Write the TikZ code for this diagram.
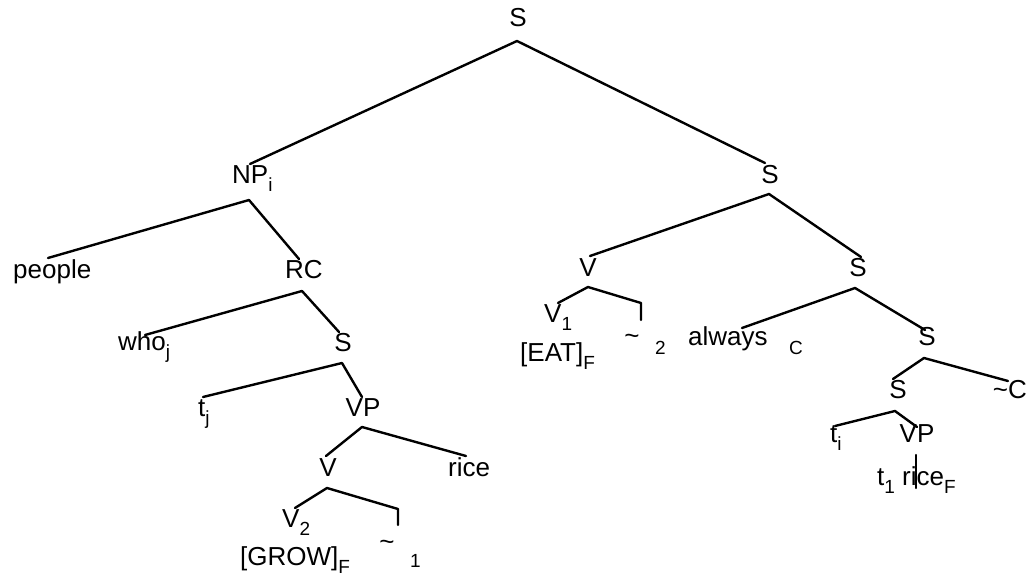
\documentclass[tikz,border=0pt]{standalone}
\usepackage{fontspec}
\setmainfont{Liberation Sans}
\newcommand\sbx[1]{\raisebox{-8pt}{\fontsize{19}{19}\selectfont #1}}
\newcommand\smx[1]{{\fontsize{19}{19}\selectfont #1}}
\begin{document}
\begin{tikzpicture}[x=1pt,y=-1pt,
  lbl/.style={inner sep=0pt,font=\fontsize{26}{30}\selectfont},
  lw/.style={lbl,anchor=base west},
  lc/.style={lbl,anchor=base},
  edge/.style={line width=2.4pt,line cap=round,line join=round}]
\useasboundingbox (0,0) rectangle (1028,575);
% labels
\node[lc] (s0) at (518,27) {S};
\node[lw] (np) at (232,183) {NP\sbx{i}};
\node[lc] (s1) at (770,183) {S};
\node[lw] (people) at (13,278) {people};
\node[lc] (rc) at (304,278) {RC};
\node[lc] (vr) at (588,276) {V};
\node[lc] (s2) at (858,276) {S};
\node[lw] (who) at (118,350) {who\sbx{j}};
\node[lc] (srel) at (343,351) {S};
\node[lw] (v1) at (544,322) {V\sbx{1}};
\node[lw] (eat) at (520,361) {[EAT]\sbx{F}};
\node[lc] (tilde2) at (632,344) {\~{}};
\node[lbl,anchor=base west] (two) at (655,354) {\smx{2}};
\node[lw] (always) at (688,345) {always};
\node[lbl,anchor=base west] (cc) at (789,354) {\smx{C}};
\node[lc] (s3) at (927,345) {S};
\node[lw] (tj) at (198,416) {t\sbx{j}};
\node[lc] (vp) at (363,416) {VP};
\node[lc] (s4) at (898,398) {S};
\node[lbl,anchor=base east] (notc) at (1027,398) {\~{}C};
\node[lc] (vl) at (328,476) {V};
\node[lw] (rice) at (448,476) {rice};
\node[lw] (ti) at (830,442) {t\sbx{i}};
\node[lc] (vp2) at (917,442) {VP};
\node[lw] (trice) at (877,485) {t\sbx{1} rice\sbx{F}};
\node[lw] (v2) at (282,527) {V\sbx{2}};
\node[lw] (grow) at (240,565) {[GROW]\sbx{F}};
\node[lc] (tilde1) at (387,550) {\~{}};
\node[lbl,anchor=base west] (one) at (410,567) {\smx{1}};
% connector points
\coordinate (a0) at (517,41);
\coordinate (e0l) at (250,164);
\coordinate (e0r) at (765,163);
\coordinate (a1) at (249,200);
\coordinate (e1l) at (48,258);
\coordinate (e1r) at (299,259);
\coordinate (a2) at (302,291);
\coordinate (e2l) at (145,335);
\coordinate (e2r) at (339,332);
\coordinate (a3) at (342,363);
\coordinate (e3l) at (203,397);
\coordinate (e3r) at (362,397);
\coordinate (a4) at (362,427);
\coordinate (e4l) at (326,456);
\coordinate (e4r) at (466,456);
\coordinate (a5) at (327,488);
\coordinate (e5l) at (295,508);
\coordinate (c5) at (398,509);
\coordinate (d5) at (398,525);
\coordinate (a6) at (769,194);
\coordinate (e6l) at (590,256);
\coordinate (e6r) at (861,257);
\coordinate (a7) at (588,287);
\coordinate (e7l) at (558,303);
\coordinate (c7) at (641,303);
\coordinate (d7) at (641,320);
\coordinate (a8) at (855,288);
\coordinate (e8l) at (742,328);
\coordinate (e8r) at (925,330);
\coordinate (a9) at (924,358);
\coordinate (e9l) at (893,379);
\coordinate (e9r) at (1008,381);
\coordinate (a10) at (895,411);
\coordinate (e10l) at (835,426);
\coordinate (e10r) at (917,427);
\coordinate (v10t) at (916,455);
\coordinate (v10b) at (916,488);
% connectors
\draw[edge] (e0l) -- (a0) -- (e0r);
\draw[edge] (e1l) -- (a1) -- (e1r);
\draw[edge] (e2l) -- (a2) -- (e2r);
\draw[edge] (e3l) -- (a3) -- (e3r);
\draw[edge] (e4l) -- (a4) -- (e4r);
\draw[edge] (e5l) -- (a5) -- (c5) -- (d5);
\draw[edge] (e6l) -- (a6) -- (e6r);
\draw[edge] (e7l) -- (a7) -- (c7) -- (d7);
\draw[edge] (e8l) -- (a8) -- (e8r);
\draw[edge] (e9l) -- (a9) -- (e9r);
\draw[edge] (e10l) -- (a10) -- (e10r);
\draw[edge] (v10t) -- (v10b);
\end{tikzpicture}
\end{document}
